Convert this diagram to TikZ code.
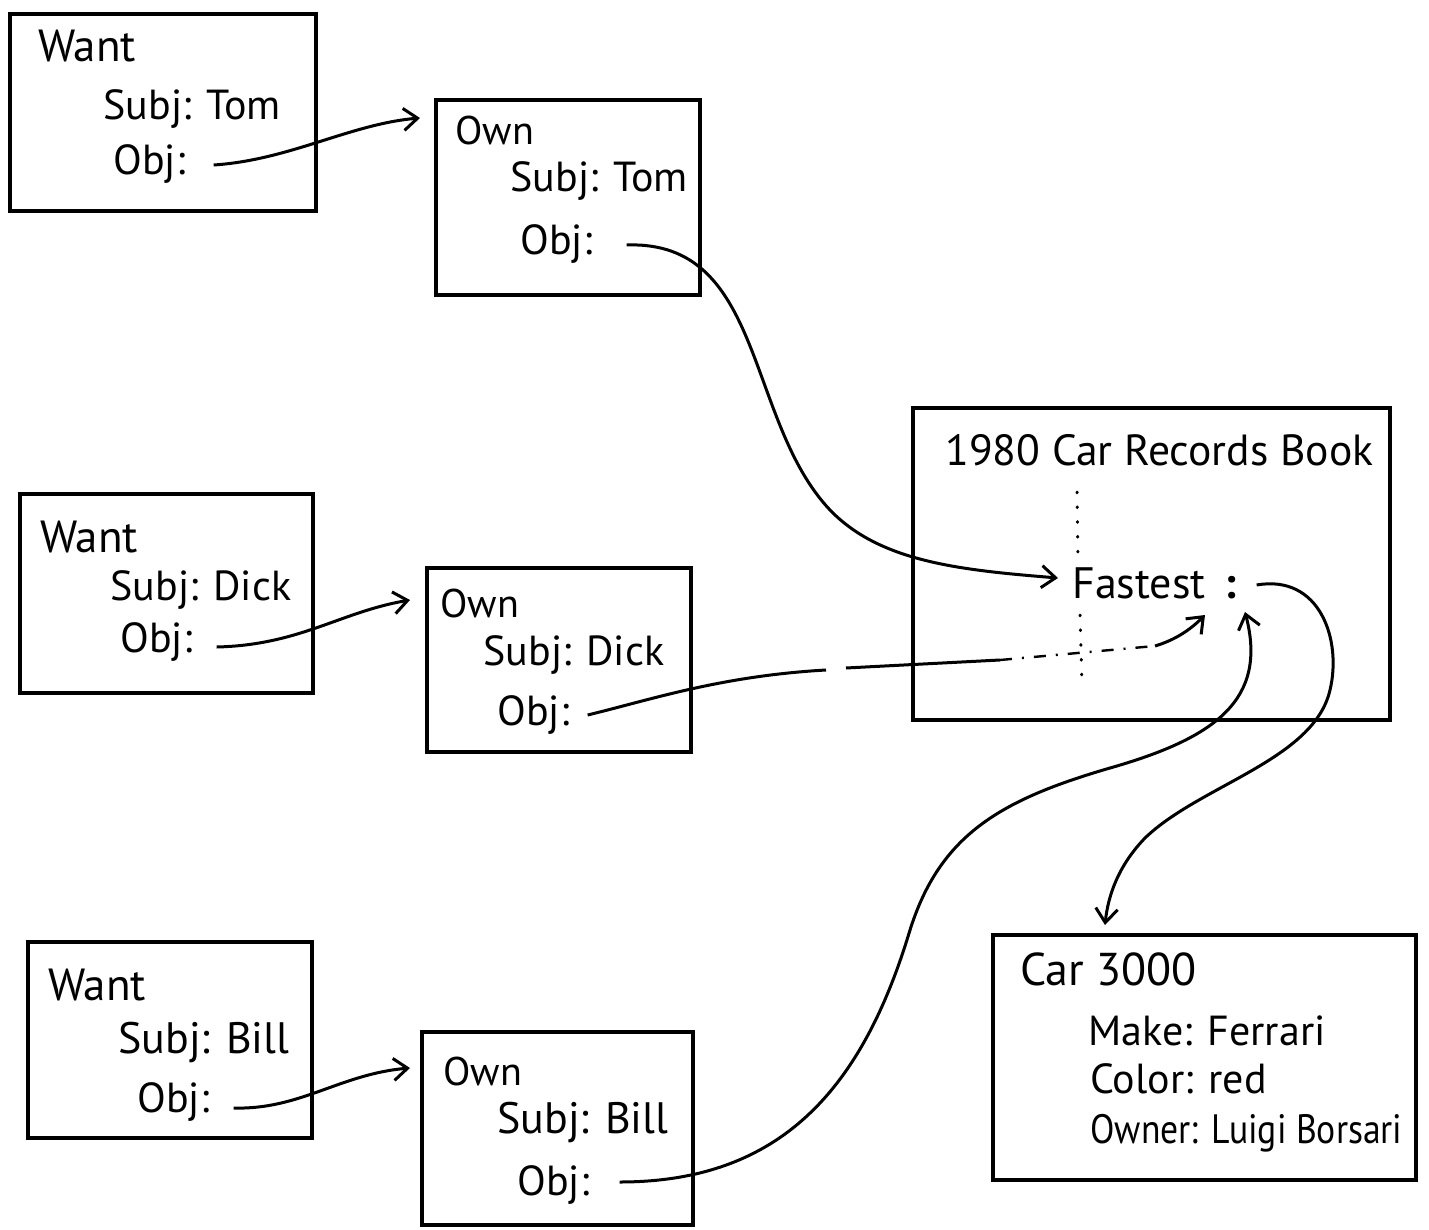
\documentclass[tikz,border=0pt]{standalone}
\usepackage{fontspec}
\usepackage{graphicx}
\setmainfont{PT Sans}
\usetikzlibrary{arrows.meta,fit}
\begin{document}
\begin{tikzpicture}[x=0.5pt,y=-0.5pt,
  frame/.style={draw, line width=1.6pt, inner sep=0pt},
  lbl/.style={anchor=base west, inner sep=0pt, font=\fontsize{#1}{#1}\selectfont},
  lbl/.default=21,
  link/.style={line width=1.5pt, -{Straight Barb[length=7pt,width=11pt]}},
  plain/.style={line width=1.5pt},
  gapline/.style={line width=1.2pt, dash pattern=on 6pt off 5pt on 1pt off 5pt},
  rule/.style={line width=1.5pt, line cap=round, dash pattern=on 0.4pt off 7pt},
]
\useasboundingbox (0,0) rectangle (1429,1230);

% ---- frames ----
\node[frame, fit={(10,14)(316,211)}]   (wt) {};
\node[frame, fit={(436,100)(700,295)}] (ot) {};
\node[frame, fit={(20,494)(313,693)}]  (wd) {};
\node[frame, fit={(427,568)(691,752)}] (od) {};
\node[frame, fit={(28,942)(312,1138)}] (wb) {};
\node[frame, fit={(422,1032)(693,1225)}] (ob) {};
\node[frame, fit={(913,408)(1390,720)}] (bk) {};
\node[frame, fit={(993,935)(1416,1180)}] (car) {};

% ---- Want / Tom ----
\node[lbl=22.5] (wtW) at (38,62)   {Want};
\node[lbl] (wtS) at (103,120) {Subj: Tom};
\node[lbl] (wtO) at (113,175) {Obj:};
% ---- Own / Tom ----
\node[lbl=20] (otW) at (455,145) {Own};
\node[lbl] (otS) at (510,192) {Subj: Tom};
\node[lbl] (otO) at (520,255) {Obj:};
% ---- Want / Dick ----
\node[lbl=22.5] (wdW) at (40,552)  {Want};
\node[lbl] (wdS) at (110,600) {Subj: Dick};
\node[lbl] (wdO) at (120,652) {Obj:};
% ---- Own / Dick ----
\node[lbl=20] (odW) at (440,617) {Own};
\node[lbl] (odS) at (483,665) {Subj: Dick};
\node[lbl] (odO) at (497,725) {Obj:};
% ---- Want / Bill ----
\node[lbl=22.5] (wbW) at (48,1000)  {Want};
\node[lbl=22] (wbS) at (118,1053) {Subj: Bill};
\node[lbl] (wbO) at (137,1112) {Obj:};
% ---- Own / Bill ----
\node[lbl=20] (obW) at (443,1085) {Own};
\node[lbl=22] (obS) at (497,1133) {Subj: Bill};
\node[lbl] (obO) at (517,1195) {Obj:};
% ---- record book ----
\node[lbl=21.8] (bkT) at (945,465)  {1980 Car Records Book};
\node[lbl=22] (fast) at (1072,598) {Fastest};
\node[lbl=22] (colon) at (1224,598) {\textbf{:}};
% ---- car ----
\node[lbl=23] (cT) at (1020,985)  {Car 3000};
\node[lbl=21] (cM) at (1088,1045) {Make: Ferrari};
\node[lbl=21] (cC) at (1090,1093) {Color: red};
\node[lbl=20.5] (cO) at (1090,1143) {\scalebox{0.87}[1]{Owner: Luigi Borsari}};

% ---- slot divider in the book ----
\draw[rule] (1077,492) -- (1078,557);
\draw[rule] (1080,615) -- (1082,684);

% ---- arrow end points ----
\coordinate (tTom)  at (420,118);
\coordinate (tDick) at (410,600);
\coordinate (tBill) at (410,1068);
\coordinate (tFast) at (1058,578);
\coordinate (tColA) at (1205,615);
\coordinate (tColB) at (1245,612);
\coordinate (tCar)  at (1105,925);
\coordinate (dA) at (826,670);
\coordinate (dB) at (846,668);
\coordinate (dC) at (1000,660);
\coordinate (dD) at (1155,646);

% ---- connectors ----
\draw[link] ([xshift=14pt,yshift=5pt]wtO.base east) .. controls (290,160) and (350,124) .. (tTom);
\draw[link] ([xshift=12pt,yshift=2.5pt]wdO.base east) .. controls (300,645) and (340,612) .. (tDick);
\draw[link] ([xshift=12pt,yshift=2pt]wbO.base east) .. controls (300,1110) and (340,1074) .. (tBill);

\draw[link] ([xshift=17pt,yshift=5pt]otO.base east) .. controls (765,240) and (745,420) .. (830,510)
  .. controls (880,562) and (960,570) .. (tFast);

\draw[plain] ([xshift=9pt,yshift=5pt]odO.base east) .. controls (650,700) and (720,676) .. (dA);
\draw[plain] (dB) -- (dC);
\draw[gapline] (dC) -- (dD);
\draw[link] (dD) .. controls (1175,640) and (1190,630) .. (tColA);

\draw[link] ([xshift=15pt,yshift=6.5pt]obO.base east) .. controls (780,1182) and (862,1090) .. (910,930)
  .. controls (940,835) and (1000,800) .. (1110,768)
  .. controls (1215,738) and (1268,700) .. (tColB);

\draw[link] ([xshift=10pt,yshift=6.5pt]colon.base east) .. controls (1320,574) and (1342,640) .. (1330,690)
  .. controls (1314,760) and (1200,785) .. (1145,838)
  .. controls (1118,866) and (1108,896) .. (tCar);
\end{tikzpicture}
\end{document}
